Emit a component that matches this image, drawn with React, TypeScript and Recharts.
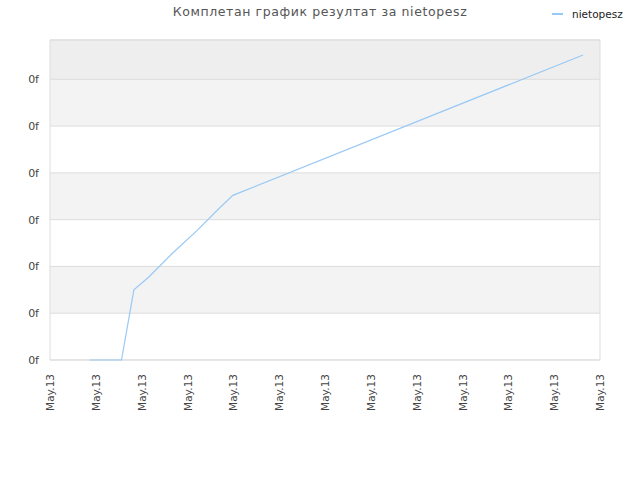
import React from 'react';
import { LineChart, Line, XAxis, YAxis, CartesianGrid, ReferenceArea } from 'recharts';

// положение точака по временској оси (у размацима између ознака)
const timePoints = [0.87, 1.56, 1.83, 2.15, 2.66, 3.2, 3.71, 3.99, 11.63];
// резултат (у размацима између хоризонталних линија)
const scores = [0, 0, 1.5, 1.77, 2.27, 2.76, 3.26, 3.52, 6.52];

const xTicks = [0, 1, 2, 3, 4, 5, 6, 7, 8, 9, 10, 11, 12];
const yTicks = [0, 1, 2, 3, 4, 5, 6];
const xLabel = 'May.13';
const yLabel = '0f';
const seriesName = 'nietopesz';

const data = timePoints.map((t, i) => ({ t, nietopesz: scores[i] }));

const font = '"DejaVu Sans", Verdana, sans-serif';
const lineColor = '#99c9f5';

const XTick = (props: any) => {
  const { x, y } = props;
  return (
    <text x={x} y={y} transform={`rotate(-90 ${x} ${y})`} textAnchor="end" dy={4}
      fontSize={10.5} fill="#444" fontFamily={font}>
      {xLabel}
    </text>
  );
};

const App: React.FC = () => {
  return (
    <div style={{ position: 'absolute', left: 0, top: 0, width: 640, height: 480, background: '#fff' }}>
      <div style={{ position: 'absolute', left: 0, width: 640, top: 4, textAlign: 'center', fontFamily: font,
        fontSize: 12.5, color: '#555', letterSpacing: 0.6 }}>
        Комплетан график резултат за nietopesz
      </div>
      <div style={{ position: 'absolute', left: 552, top: 8, fontFamily: font, fontSize: 10.5, color: '#222',
        display: 'flex', alignItems: 'center' }}>
        <span style={{ display: 'inline-block', width: 11, height: 2, background: lineColor, marginRight: 9 }} />
        {seriesName}
      </div>
      <LineChart width={640} height={480} data={data}
        margin={{ top: 40, right: 40, left: 0, bottom: 50 }}>
        <CartesianGrid vertical={false} stroke="#dddddd"
          horizontalFill={['#eeeeee', '#f3f3f3', '#ffffff', '#f3f3f3', '#ffffff', '#f3f3f3', '#ffffff']}
          fillOpacity={1} />
        <ReferenceArea x1={0} x2={12} y1={0} y2={6.84} fill="none" stroke="#dddddd" ifOverflow="visible" />
        <XAxis dataKey="t" type="number" domain={[0, 12]} ticks={xTicks} interval={0}
          tick={<XTick />} tickLine={false} axisLine={false} height={70} tickMargin={8} />
        <YAxis type="number" domain={[0, 6.84]} ticks={yTicks} width={50} tickLine={false} axisLine={false}
          tickSize={0} tickMargin={11} tickFormatter={() => yLabel}
          tick={{ fontSize: 11, fill: '#444', fontFamily: font }} />
        <Line type="linear" dataKey="nietopesz" name={seriesName} stroke={lineColor} strokeWidth={1.2} dot={false}
          isAnimationActive={false} />
      </LineChart>
    </div>
  );
};

export default App;
